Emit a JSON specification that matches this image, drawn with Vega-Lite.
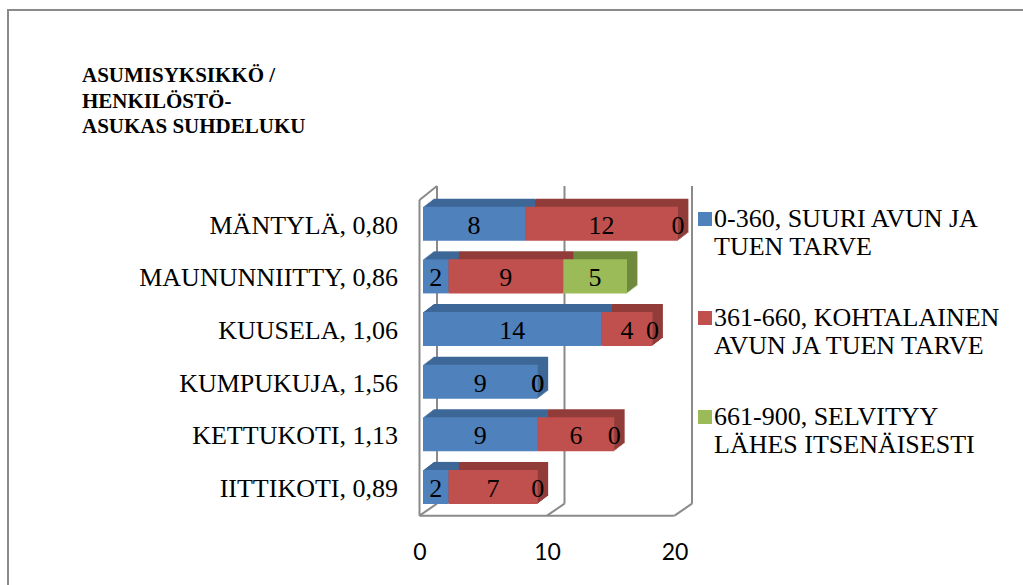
{
  "$schema": "https://vega.github.io/schema/vega-lite/v6.json",
  "width": 1015,
  "height": 575,
  "autosize": {"type": "none"},
  "padding": {"left": 8, "top": 10, "right": 0, "bottom": 0},
  "background": "white",
  "view": {"stroke": "#8a8a8a", "strokeWidth": 2, "strokeDash": [1015, 1590, 575], "fill": "white"},
  "config": {
    "font": "Liberation Serif",
    "title": {"font": "Liberation Serif"},
    "legend": {"labelFont": "Liberation Serif", "labelLineHeight": 32}
  },
  "title": {
    "text": ["ASUMISYKSIKKÖ /", "HENKILÖSTÖ-", "ASUKAS SUHDELUKU"],
    "anchor": "start",
    "frame": "group",
    "font": "Liberation Serif",
    "fontSize": 21,
    "fontWeight": "bold",
    "color": "black",
    "lineHeight": 25.5,
    "offset": 0,
    "dx": 74,
    "dy": 127
  },
  "data": {
    "values": [
      {"cat": "MÄNTYLÄ, 0,80", "series": "0-360, SUURI AVUN JA TUEN TARVE", "value": 8},
      {"cat": "MÄNTYLÄ, 0,80", "series": "361-660, KOHTALAINEN AVUN JA TUEN TARVE", "value": 12},
      {"cat": "MÄNTYLÄ, 0,80", "series": "661-900, SELVITYY LÄHES ITSENÄISESTI", "value": 0},
      {"cat": "MAUNUNNIITTY, 0,86", "series": "0-360, SUURI AVUN JA TUEN TARVE", "value": 2},
      {"cat": "MAUNUNNIITTY, 0,86", "series": "361-660, KOHTALAINEN AVUN JA TUEN TARVE", "value": 9},
      {"cat": "MAUNUNNIITTY, 0,86", "series": "661-900, SELVITYY LÄHES ITSENÄISESTI", "value": 5},
      {"cat": "KUUSELA, 1,06", "series": "0-360, SUURI AVUN JA TUEN TARVE", "value": 14},
      {"cat": "KUUSELA, 1,06", "series": "361-660, KOHTALAINEN AVUN JA TUEN TARVE", "value": 4},
      {"cat": "KUUSELA, 1,06", "series": "661-900, SELVITYY LÄHES ITSENÄISESTI", "value": 0},
      {"cat": "KUMPUKUJA, 1,56", "series": "0-360, SUURI AVUN JA TUEN TARVE", "value": 9},
      {"cat": "KUMPUKUJA, 1,56", "series": "361-660, KOHTALAINEN AVUN JA TUEN TARVE", "value": 0},
      {"cat": "KUMPUKUJA, 1,56", "series": "661-900, SELVITYY LÄHES ITSENÄISESTI", "value": 0},
      {"cat": "KETTUKOTI, 1,13", "series": "0-360, SUURI AVUN JA TUEN TARVE", "value": 9},
      {"cat": "KETTUKOTI, 1,13", "series": "361-660, KOHTALAINEN AVUN JA TUEN TARVE", "value": 6},
      {"cat": "KETTUKOTI, 1,13", "series": "661-900, SELVITYY LÄHES ITSENÄISESTI", "value": 0},
      {"cat": "IITTIKOTI, 0,89", "series": "0-360, SUURI AVUN JA TUEN TARVE", "value": 2},
      {"cat": "IITTIKOTI, 0,89", "series": "361-660, KOHTALAINEN AVUN JA TUEN TARVE", "value": 7},
      {"cat": "IITTIKOTI, 0,89", "series": "661-900, SELVITYY LÄHES ITSENÄISESTI", "value": 0}
    ]
  },
  "layer": [
    {
      "data": {"values": [{"g": 0}, {"g": 10}, {"g": 20}]},
      "mark": {"type": "rule", "color": "#8a8a8a", "strokeWidth": 2, "xOffset": 14, "yOffset": -37.7, "y2Offset": 16.7},
      "encoding": {
        "x": {"field": "g", "type": "quantitative"},
        "y": {"datum": "MÄNTYLÄ, 0,80", "type": "nominal"},
        "y2": {"datum": "IITTIKOTI, 0,89"}
      }
    },
    {
      "data": {"values": [{"g": 0}, {"g": 10}, {"g": 20}]},
      "mark": {"type": "rule", "color": "#8a8a8a", "strokeWidth": 2, "xOffset": -3.5, "x2Offset": 14, "yOffset": 28.7, "y2Offset": 16.7},
      "encoding": {
        "x": {"field": "g", "type": "quantitative"},
        "x2": {"field": "g"},
        "y": {"datum": "IITTIKOTI, 0,89", "type": "nominal"},
        "y2": {"datum": "IITTIKOTI, 0,89"}
      }
    },
    {
      "data": {"values": [{"g": 0}]},
      "mark": {"type": "rule", "color": "#8a8a8a", "strokeWidth": 2, "xOffset": -3.5, "x2Offset": -3.5, "yOffset": 28.7, "y2Offset": 28.7},
      "encoding": {
        "x": {"datum": 0, "type": "quantitative"},
        "x2": {"datum": 20},
        "y": {"datum": "IITTIKOTI, 0,89", "type": "nominal"},
        "y2": {"datum": "IITTIKOTI, 0,89"}
      }
    },
    {
      "data": {"values": [{"g": 0}]},
      "mark": {"type": "rule", "color": "#8a8a8a", "strokeWidth": 2, "xOffset": -3.5, "yOffset": -23.7, "y2Offset": 28.7},
      "encoding": {
        "x": {"datum": 0, "type": "quantitative"},
        "y": {"datum": "MÄNTYLÄ, 0,80", "type": "nominal"},
        "y2": {"datum": "IITTIKOTI, 0,89"}
      }
    },
    {
      "data": {"values": [{"g": 0}]},
      "mark": {"type": "rule", "color": "#8a8a8a", "strokeWidth": 2, "xOffset": -3.5, "x2Offset": 14, "yOffset": -23.7, "y2Offset": -37.7},
      "encoding": {
        "x": {"datum": 0, "type": "quantitative"},
        "x2": {"datum": 0},
        "y": {"datum": "MÄNTYLÄ, 0,80", "type": "nominal"},
        "y2": {"datum": "MÄNTYLÄ, 0,80"}
      }
    },
    {
      "encoding": {
        "x": {"field": "value", "type": "quantitative", "stack": "zero"},
        "y": {"field": "cat", "type": "nominal"},
        "color": {"field": "series", "type": "nominal", "legend": null, "scale": {"domain": ["0-360, SUURI AVUN JA TUEN TARVE", "361-660, KOHTALAINEN AVUN JA TUEN TARVE", "661-900, SELVITYY LÄHES ITSENÄISESTI"], "range": ["#3d6797", "#923c3a", "#6f8a3c"]}},
        "order": {"field": "series", "type": "ordinal", "sort": "ascending"}
      },
      "layer": [
        {"mark": {"type": "bar", "xOffset": 1.3, "x2Offset": 1.3, "yOffset": -1, "y2Offset": -1}},
        {"mark": {"type": "bar", "xOffset": 2.6, "x2Offset": 2.6, "yOffset": -2, "y2Offset": -2}},
        {"mark": {"type": "bar", "xOffset": 3.9, "x2Offset": 3.9, "yOffset": -3, "y2Offset": -3}},
        {"mark": {"type": "bar", "xOffset": 5.2, "x2Offset": 5.2, "yOffset": -4, "y2Offset": -4}},
        {"mark": {"type": "bar", "xOffset": 6.5, "x2Offset": 6.5, "yOffset": -5, "y2Offset": -5}},
        {"mark": {"type": "bar", "xOffset": 7.8, "x2Offset": 7.8, "yOffset": -6, "y2Offset": -6}},
        {"mark": {"type": "bar", "xOffset": 9.1, "x2Offset": 9.1, "yOffset": -7, "y2Offset": -7}},
        {"mark": {"type": "bar", "xOffset": 10.4, "x2Offset": 10.4, "yOffset": -8, "y2Offset": -8}}
      ]
    },
    {
      "mark": {"type": "bar"},
      "encoding": {
        "x": {
          "field": "value", "type": "quantitative", "stack": "zero",
          "scale": {"domain": [-32.549, 47.059], "nice": false, "zero": false},
          "axis": {"values": [0, 10, 20], "title": null, "domain": false, "ticks": false, "grid": false, "labelPadding": 0, "offset": -44, "labelOffset": -3.5, "labelFont": "Lato", "labelFontSize": 23, "labelColor": "black"}
        },
        "y": {
          "field": "cat", "type": "nominal",
          "scale": {"domain": ["MÄNTYLÄ, 0,80", "MAUNUNNIITTY, 0,86", "KUUSELA, 1,06", "KUMPUKUJA, 1,56", "KETTUKOTI, 1,13", "IITTIKOTI, 0,89"], "range": [196.7, 494], "paddingInner": 0.3526, "paddingOuter": 0},
          "axis": {"title": null, "domain": false, "ticks": false, "grid": false, "labelPadding": 0, "offset": -389.5, "labelOffset": 2, "labelFont": "Liberation Serif", "labelFontSize": 26, "labelColor": "black", "labelLimit": 400}
        },
        "color": {
          "field": "series", "type": "nominal",
          "scale": {"domain": ["0-360, SUURI AVUN JA TUEN TARVE", "361-660, KOHTALAINEN AVUN JA TUEN TARVE", "661-900, SELVITYY LÄHES ITSENÄISESTI"], "range": ["#4f81bd", "#c0504d", "#9bbb59"]},
          "legend": {
            "orient": "none", "legendX": 684, "legendY": 196, "direction": "vertical", "title": null,
            "symbolType": "square", "symbolSize": 196, "symbolStrokeWidth": 0,
            "labelFont": "Liberation Serif", "labelFontSize": 26, "labelColor": "black", "labelOffset": -4, "labelLimit": 400,
            "rowPadding": 45, "padding": 0,
            "labelExpr": "datum.value == '0-360, SUURI AVUN JA TUEN TARVE' ? ['0-360, SUURI AVUN JA', 'TUEN TARVE'] : datum.value == '361-660, KOHTALAINEN AVUN JA TUEN TARVE' ? ['361-660, KOHTALAINEN', 'AVUN JA TUEN TARVE'] : ['661-900, SELVITYY', 'LÄHES ITSENÄISESTI']"
          }
        },
        "order": {"field": "series", "type": "ordinal", "sort": "ascending"}
      }
    },
    {
      "mark": {"type": "text", "font": "Liberation Serif", "fontSize": 26, "color": "black", "baseline": "middle", "dy": 2},
      "encoding": {
        "x": {"field": "value", "type": "quantitative", "stack": "zero", "bandPosition": 0.5},
        "y": {"field": "cat", "type": "nominal"},
        "detail": {"field": "series", "type": "nominal"},
        "order": {"field": "series", "type": "ordinal", "sort": "ascending"},
        "text": {"field": "value", "type": "quantitative"}
      }
    }
  ],
  "resolve": {"scale": {"color": "independent"}}
}
